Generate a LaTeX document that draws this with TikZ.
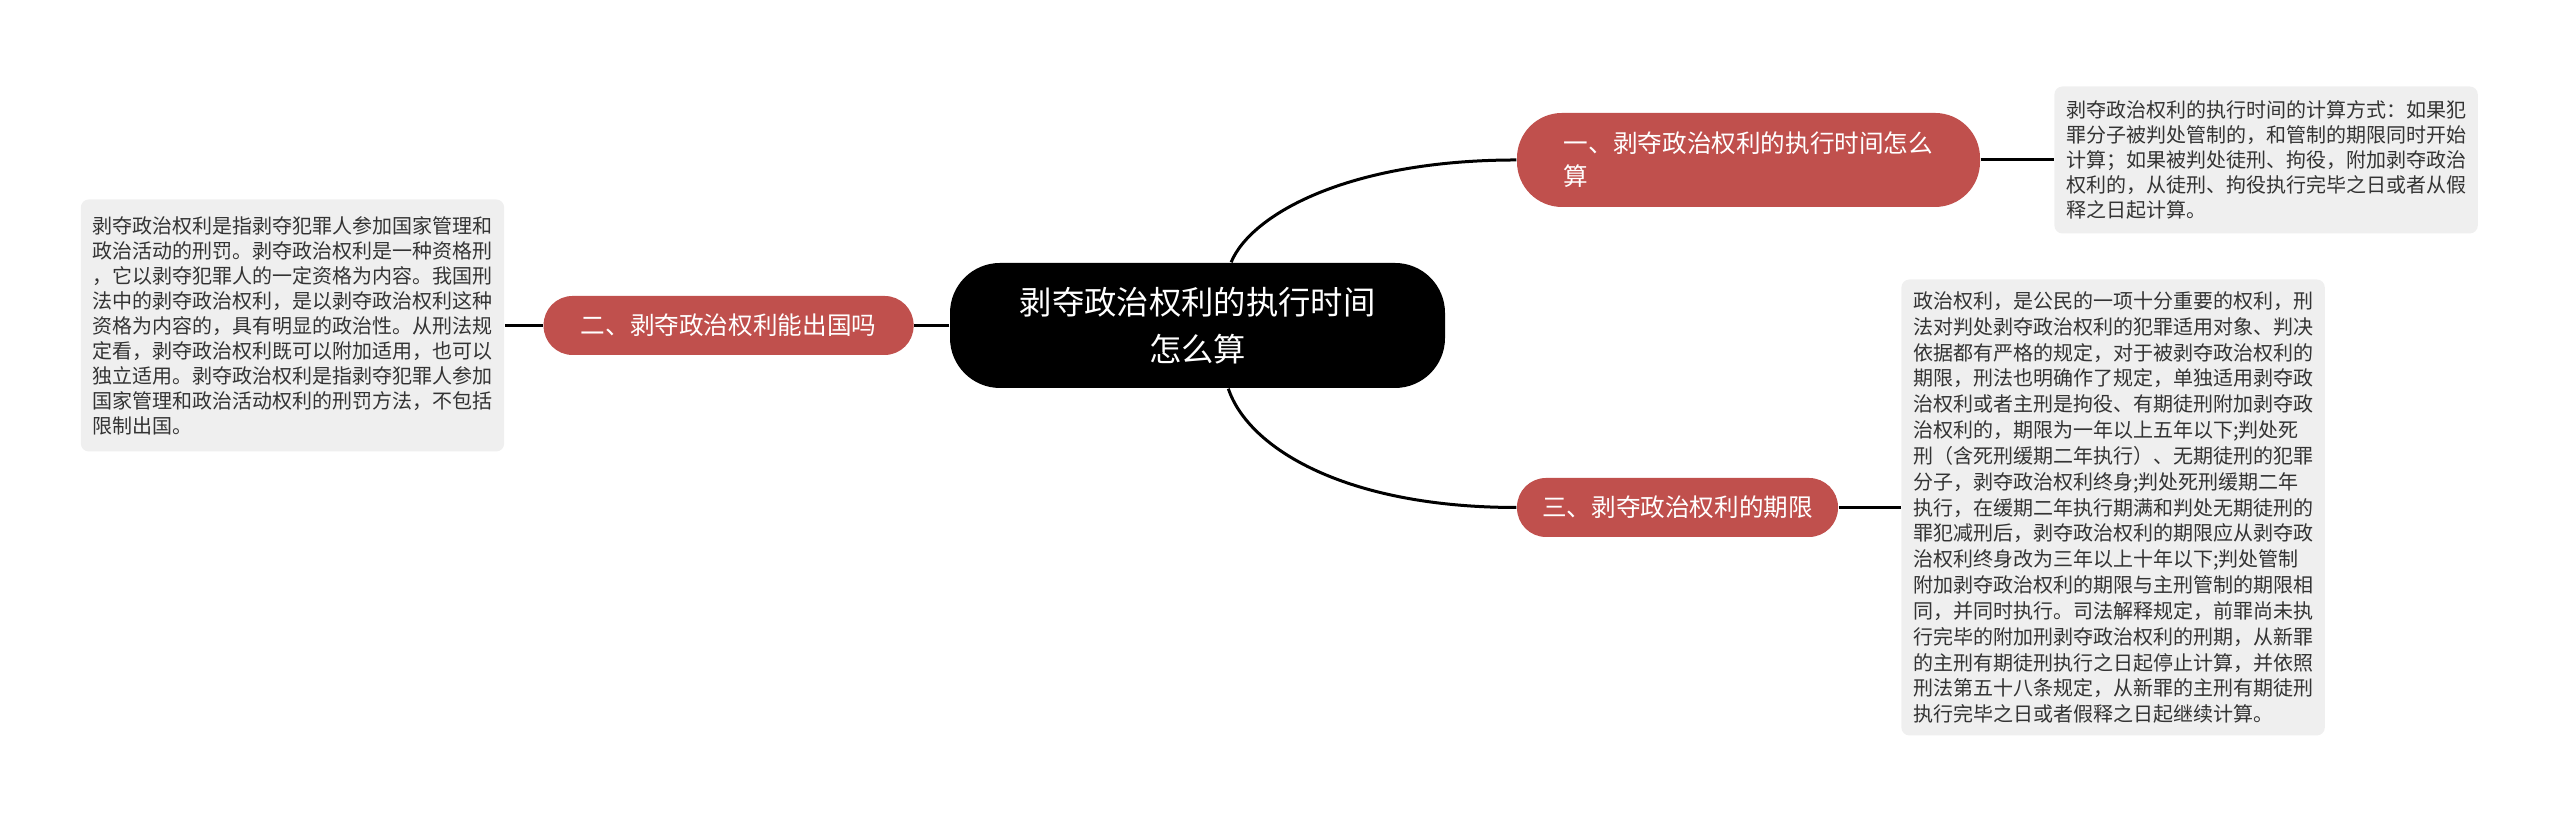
\documentclass[tikz,border=0pt]{standalone}
\usepackage{fontspec}
\newfontfamily\cjk{Noto Sans CJK SC}
\usetikzlibrary{positioning}
\definecolor{topicred}{RGB}{192,80,77}
\definecolor{notegray}{RGB}{239,239,239}
\definecolor{notetext}{RGB}{51,51,51}

\begin{document}
\begin{tikzpicture}[
    link/.style={line width=0.03cm},
    root/.style={fill=black,text=white,rounded corners=0.5cm,align=center,
        font=\cjk\fontsize{9.2pt}{13.4pt}\selectfont,minimum width=4.95cm,minimum height=1.25cm},
    topic/.style={fill=topicred,text=white,rounded corners=0.29cm,align=left,
        font=\cjk\fontsize{7pt}{9.4pt}\selectfont,minimum height=0.59cm},
    note/.style={fill=notegray,text=notetext,rounded corners=0.08cm,align=left,
        font=\cjk\fontsize{5.69pt}{7.11pt}\selectfont,minimum width=4.2cm}
]
    \useasboundingbox (0,0) rectangle (25.6,8.24);

    % centre
    \node[root] (root) at (11.975,4.985) {剥夺政治权利的执行时间\\怎么算};

    % branches
    \node[topic,rounded corners=0.45cm,minimum width=4.63cm,minimum height=0.94cm] (t1) at (17.485,6.64)
        {一、剥夺政治权利的执行时间怎么\\算};
    \node[topic,minimum width=3.7cm,left=0.35cm of root] (t2) {二、剥夺政治权利能出国吗};
    \node[topic,minimum width=3.21cm] (t3) at (16.775,3.165) {三、剥夺政治权利的期限};

    % notes
    \node[note,minimum height=1.47cm,right=0.73cm of t1] (n1) {%
        剥夺政治权利的执行时间的计算方式：如果犯\\
        罪分子被判处管制的，和管制的期限同时开始\\
        计算；如果被判处徒刑、拘役，附加剥夺政治\\
        权利的，从徒刑、拘役执行完毕之日或者从假\\
        释之日起计算。};
    \node[note,minimum height=2.52cm,left=0.38cm of t2] (n2) {%
        剥夺政治权利是指剥夺犯罪人参加国家管理和\\
        政治活动的刑罚。剥夺政治权利是一种资格刑\\
        ，它以剥夺犯罪人的一定资格为内容。我国刑\\
        法中的剥夺政治权利，是以剥夺政治权利这种\\
        资格为内容的，具有明显的政治性。从刑法规\\
        定看，剥夺政治权利既可以附加适用，也可以\\
        独立适用。剥夺政治权利是指剥夺犯罪人参加\\
        国家管理和政治活动权利的刑罚方法，不包括\\
        限制出国。};
    \node[note,minimum width=4.22cm,minimum height=4.56cm,font=\cjk\fontsize{5.69pt}{7.35pt}\selectfont,
        right=0.62cm of t3] (n3) {%
        政治权利，是公民的一项十分重要的权利，刑\\
        法对判处剥夺政治权利的犯罪适用对象、判决\\
        依据都有严格的规定，对于被剥夺政治权利的\\
        期限，刑法也明确作了规定，单独适用剥夺政\\
        治权利或者主刑是拘役、有期徒刑附加剥夺政\\
        治权利的，期限为一年以上五年以下;判处死\\
        刑（含死刑缓期二年执行）、无期徒刑的犯罪\\
        分子，剥夺政治权利终身;判处死刑缓期二年\\
        执行，在缓期二年执行期满和判处无期徒刑的\\
        罪犯减刑后，剥夺政治权利的期限应从剥夺政\\
        治权利终身改为三年以上十年以下;判处管制\\
        附加剥夺政治权利的期限与主刑管制的期限相\\
        同，并同时执行。司法解释规定，前罪尚未执\\
        行完毕的附加刑剥夺政治权利的刑期，从新罪\\
        的主刑有期徒刑执行之日起停止计算，并依照\\
        刑法第五十八条规定，从新罪的主刑有期徒刑\\
        执行完毕之日或者假释之日起继续计算。};

    % connectors
    \draw[link] (root.62) .. controls +(0.2,0.48) and +(-1.68,0) .. (t1.west);
    \draw[link] (root.-64) .. controls +(0.2,-0.6) and +(-1.7,0) .. (t3.west);
    \draw[link] (root.west) -- (t2.east);
    \draw[link] (t1.east) -- (n1.west);
    \draw[link] (t2.west) -- (n2.east);
    \draw[link] (t3.east) -- (n3.west);
\end{tikzpicture}
\end{document}
